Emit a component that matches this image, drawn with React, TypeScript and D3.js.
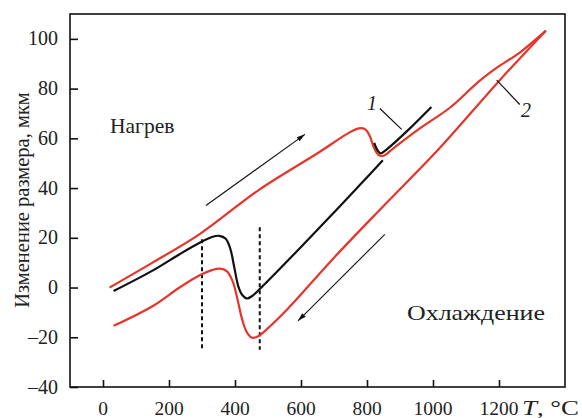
import React, { useEffect, useRef } from 'react'
import * as d3 from 'd3'

const width = 582
const height = 418
const margin = { top: 14, left: 70, bottom: 31, right: 17 }

// temperature (°C), size change (µm)
const curve1 = [
  [32, -1.4], [150, 6.8], [232, 13.4], [293, 18], [330, 20.3], [352, 20.8], [372, 19.6],
  [386, 15.5], [398, 8], [410, 0.5], [422, -3], [436, -4.4], [452, -3.4], [475, -0.6],
  [600, 16.3], [700, 30.2], [778, 41.2], [848, 51.2]
]
const curve1Tail = [
  [822, 58.2], [832, 55.2], [842, 54], [860, 55.6], [930, 64], [995, 72.6]
]
const curve2Heat = [
  [20, 0], [150, 10], [293, 21.5], [475, 39.5], [650, 54], [740, 61.8], [775, 64], [795, 63.6],
  [808, 61], [822, 56], [835, 53.3], [850, 53], [880, 56], [960, 64], [1051, 72.3],
  [1140, 83], [1200, 89], [1263, 94.5], [1342, 103.3]
]
const curve2Cool = [
  [1342, 103.3], [1203, 83.5], [1016, 55.5], [850, 32.8], [700, 12], [560, -8.5], [490, -17.5],
  [470, -19.6], [452, -20.2], [436, -18], [422, -13], [408, -5], [393, 2.5], [375, 6.6],
  [354, 7.6], [330, 7], [293, 4.9], [232, 0], [150, -7.5], [32, -15.4]
]
const dashedLines = [
  [300, 19.4, -25], [475, 24.2, -25]
]
const arrows = [
  [[312, 33], [612, 61.6]],
  [[854, 21.4], [591, -13.4]]
]
const leaders = [
  { label: '1', from: [839, 72], to: [905, 63.6], at: [372, 103] },
  { label: '2', from: [1193, 83.4], to: [1263, 73.6], at: [526, 110] }
]
const xTicks = [0, 200, 400, 600, 800, 1000, 1200]
const yTicks = [-40, -20, 0, 20, 40, 60, 80, 100]

const font = '"Liberation Serif", "DejaVu Serif", serif'
const red = '#e5352b'

const App = () => {
  const ref = useRef(null)

  useEffect(() => {
    const svg = d3.select(ref.current)
    svg.selectAll('*').remove()

    const x = d3.scaleLinear().domain([-100, 1400]).range([margin.left, width - margin.right])
    const y = d3.scaleLinear().domain([-40, 110]).range([height - margin.bottom, margin.top])

    svg.append('defs').append('marker')
      .attr('id', 'head')
      .attr('viewBox', '0 0 10 6')
      .attr('refX', 10).attr('refY', 3)
      .attr('markerWidth', 10).attr('markerHeight', 5)
      .attr('markerUnits', 'userSpaceOnUse')
      .attr('orient', 'auto')
      .append('path').attr('d', 'M0,0 L10,3 L0,6 Z').attr('fill', '#111')

    // frame
    svg.append('rect')
      .attr('x', x(-100)).attr('y', y(110))
      .attr('width', x(1400) - x(-100)).attr('height', y(-40) - y(110))
      .attr('fill', 'none').attr('stroke', '#111').attr('stroke-width', 1.6)

    const xa = svg.append('g')
      .attr('transform', `translate(0,${y(-40)})`)
      .call(d3.axisTop(x).tickValues(xTicks).tickSize(7).tickFormat(() => ''))
    xa.select('.domain').remove()
    xa.selectAll('line').attr('stroke', '#111').attr('stroke-width', 1.6)

    const ya = svg.append('g')
      .attr('transform', `translate(${x(-100)},0)`)
      .call(d3.axisRight(y).tickValues(yTicks).tickSize(8).tickFormat(() => ''))
    ya.select('.domain').remove()
    ya.selectAll('line').attr('stroke', '#111').attr('stroke-width', 1.6)

    svg.append('g').selectAll('text').data(xTicks).enter().append('text')
      .attr('x', d => x(d)).attr('y', 415)
      .attr('text-anchor', 'middle')
      .attr('font-family', font).attr('font-size', 19.5).attr('fill', '#222')
      .text(d => d)

    svg.append('g').selectAll('text').data(yTicks).enter().append('text')
      .attr('x', 58).attr('y', d => y(d) + 6.5)
      .attr('text-anchor', 'end')
      .attr('font-family', font).attr('font-size', 20).attr('fill', '#222')
      .text(d => (d < 0 ? '\u2013' + Math.abs(d) : d))

    const tl = svg.append('text')
      .attr('x', 522).attr('y', 415)
      .attr('textLength', 57).attr('lengthAdjust', 'spacingAndGlyphs')
      .attr('font-family', font).attr('font-size', 20).attr('fill', '#222')
    tl.append('tspan').attr('font-style', 'italic').text('T')
    tl.append('tspan').text(', °C')

    svg.append('text')
      .attr('transform', 'translate(29,200) rotate(-90)')
      .attr('text-anchor', 'middle')
      .attr('font-family', font).attr('font-size', 20.5).attr('fill', '#222')
      .text('Изменение размера, мкм')

    svg.append('text').attr('x', 110).attr('y', 133)
      .attr('font-family', font).attr('font-size', 21.5).attr('fill', '#222')
      .text('Нагрев')
    svg.append('text').attr('x', 407).attr('y', 320)
      .attr('textLength', 138).attr('lengthAdjust', 'spacingAndGlyphs')
      .attr('font-family', font).attr('font-size', 21.5).attr('fill', '#222')
      .text('Охлаждение')

    // dashed markers
    svg.append('g').selectAll('line').data(dashedLines).enter().append('line')
      .attr('x1', d => x(d[0])).attr('x2', d => x(d[0]))
      .attr('y1', d => y(d[1])).attr('y2', d => y(d[2]))
      .attr('stroke', '#111').attr('stroke-width', 2).attr('stroke-dasharray', '4,3')

    const line = d3.line().x(d => x(d[0])).y(d => y(d[1])).curve(d3.curveCatmullRom.alpha(0.5))

    ;[curve2Heat, curve2Cool].forEach(c => {
      svg.append('path').datum(c).attr('d', line)
        .attr('fill', 'none').attr('stroke', red).attr('stroke-width', 2.2)
        .attr('stroke-linejoin', 'round')
    })
    ;[curve1, curve1Tail].forEach(c => {
      svg.append('path').datum(c).attr('d', line)
        .attr('fill', 'none').attr('stroke', '#111').attr('stroke-width', 2.2)
        .attr('stroke-linejoin', 'round')
    })

    svg.append('g').selectAll('line').data(arrows).enter().append('line')
      .attr('x1', d => x(d[0][0])).attr('y1', d => y(d[0][1]))
      .attr('x2', d => x(d[1][0])).attr('y2', d => y(d[1][1]))
      .attr('stroke', '#111').attr('stroke-width', 1.1)
      .attr('marker-end', 'url(#head)')

    const lg = svg.append('g')
    lg.selectAll('line').data(leaders).enter().append('line')
      .attr('x1', d => x(d.from[0])).attr('y1', d => y(d.from[1]))
      .attr('x2', d => x(d.to[0])).attr('y2', d => y(d.to[1]))
      .attr('stroke', '#111').attr('stroke-width', 1.2)
    lg.selectAll('text').data(leaders).enter().append('text')
      .attr('x', d => d.at[0]).attr('y', d => d.at[1] + 7)
      .attr('text-anchor', 'middle')
      .attr('font-family', font).attr('font-style', 'italic').attr('font-size', 20).attr('fill', '#222')
      .text(d => d.label)
  }, [])

  return (
    <svg ref={ref} width={width} height={height}
      style={{ position: 'absolute', left: 0, top: 0, background: '#fff' }} />
  )
}

export default App
